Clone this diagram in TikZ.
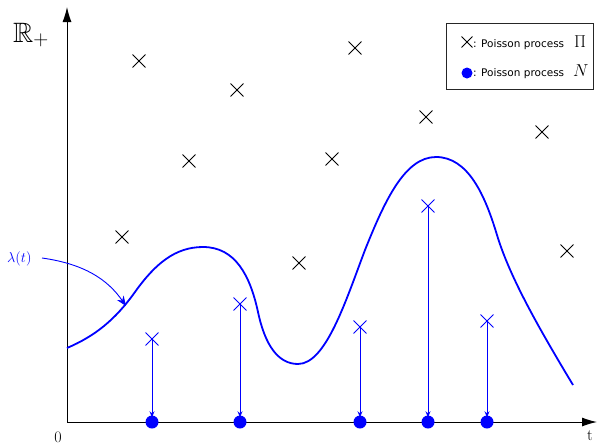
\documentclass[tikz,border=0pt]{standalone}
\usepackage{amssymb}
\usepackage{fontspec}
\newfontfamily\dejavu{DejaVu Sans}
\usetikzlibrary{shapes.misc,arrows.meta}
\tikzset{
  bcross/.style={cross out, draw=black, line width=0.9pt, minimum size=12pt, inner sep=0pt},
  pcross/.style={cross out, draw=blue, line width=0.9pt, minimum size=12pt, inner sep=0pt},
  pdot/.style={circle, fill=blue, minimum size=13pt, inner sep=0pt},
  drop/.style={blue, line width=0.9pt, -{Stealth[length=6pt,width=5pt]}, shorten >=-2pt},
  axis/.style={black, line width=1pt, -{Latex[length=15pt,width=9pt]}},
  intens/.style={blue, line width=1.8pt},
}
\begin{document}
\begin{tikzpicture}[x=1pt,y=-1pt]
\useasboundingbox (0,0) rectangle (597,445);
% axes
\coordinate (O) at (67,422);
\coordinate (xend) at (597,422);
\coordinate (yend) at (67,7);
\draw[axis] (O) -- (xend);
\draw[axis] (O) -- (yend);
\node[inner sep=0pt, anchor=base west] (Rlab) at (13,42) {\fontsize{28}{30}\selectfont$\mathbb{R}_+$};
\node[inner sep=0pt] (zero) at (58,437) {\fontsize{16}{18}\selectfont 0};
\node[inner sep=0pt] (tlab) at (590,436) {\fontsize{16}{18}\selectfont t};
% intensity curve
\draw[intens] (67,348) .. controls (95,336) and (115,320) .. (135,292)
  .. controls (155,264) and (175,247) .. (203,247)
  .. controls (235,247) and (250,275) .. (258,312)
  .. controls (265,345) and (278,364) .. (298,364)
  .. controls (326,364) and (346,300) .. (365,250)
  .. controls (385,200) and (405,157) .. (436,157)
  .. controls (468,157) and (485,195) .. (497,235)
  .. controls (510,278) and (540,330) .. (573,385);
\node[inner sep=0pt, anchor=base west, text=blue] (lam) at (7,262) {\fontsize{15}{18}\selectfont$\lambda(t)$};
\coordinate (lamstart) at (42,258);
\coordinate (lamtip) at (126,306);
\draw[blue, line width=0.9pt, -{Stealth[length=10pt,width=8pt]}] (lamstart) .. controls (85,264) and (108,280) .. (lamtip);
% Poisson process Pi (black crosses)
\node[bcross] (b1) at (122,237) {};
\node[bcross] (b2) at (139,61) {};
\node[bcross] (b3) at (189,161) {};
\node[bcross] (b4) at (237,90) {};
\node[bcross] (b5) at (299,263) {};
\node[bcross] (b6) at (332,159) {};
\node[bcross] (b7) at (355,48) {};
\node[bcross] (b8) at (426,117) {};
\node[bcross] (b9) at (542,132) {};
\node[bcross] (b10) at (567,251) {};
% accepted points
\node[pcross] (c1) at (152,339) {};
\node[pcross] (c2) at (240,304) {};
\node[pcross] (c3) at (360,327) {};
\node[pcross] (c4) at (428,206) {};
\node[pcross] (c5) at (487,321) {};
\node[pdot] (d1) at (152,422) {};
\node[pdot] (d2) at (240,422) {};
\node[pdot] (d3) at (360,422) {};
\node[pdot] (d4) at (428,422) {};
\node[pdot] (d5) at (487,422) {};
\draw[drop] (c1.center) -- (d1.north);
\draw[drop] (c2.center) -- (d2.north);
\draw[drop] (c3.center) -- (d3.north);
\draw[drop] (c4.center) -- (d4.north);
\draw[drop] (c5.center) -- (d5.north);
% legend
\node[draw=black!85, line width=0.8pt, minimum width=147pt, minimum height=66pt, inner sep=0pt] (legend) at (519.5,56) {};
\node[bcross, minimum size=10pt] (lc) at (467,42) {};
\node[pdot, minimum size=11pt] (ld) at (467,73) {};
\node[inner sep=0pt, anchor=base west] (l1) at (473,47) {\dejavu\fontsize{10.5}{12}\selectfont: Poisson process\hspace{10pt}\fontsize{16}{16}\selectfont$\Pi$};
\node[inner sep=0pt, anchor=base west] (l2) at (473,76) {\dejavu\fontsize{10.5}{12}\selectfont: Poisson process\hspace{9pt}\fontsize{16}{16}\selectfont$N$};
\end{tikzpicture}
\end{document}
